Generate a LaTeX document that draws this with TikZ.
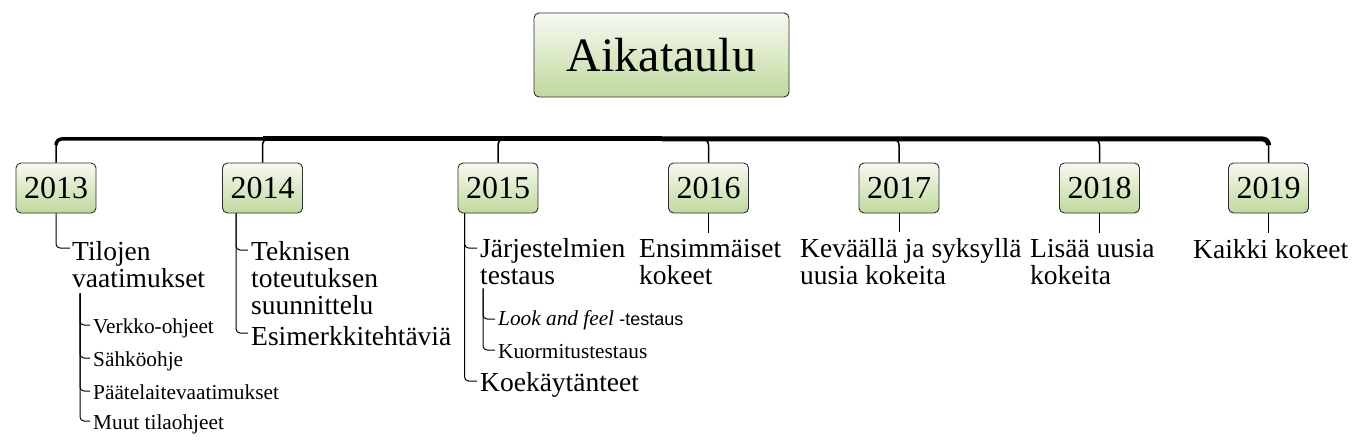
\documentclass[tikz,border=0pt]{standalone}
\usepackage{fontspec}
\setmainfont{Liberation Serif}
\newfontfamily\arialfont{Liberation Sans}
\usepackage{tikz}
\usetikzlibrary{calc}
\definecolor{boxtop}{HTML}{F7FAF2}
\definecolor{boxbottom}{HTML}{C0D89C}
\definecolor{boxline}{HTML}{2E2E2E}
\tikzset{
    topic/.style={
        draw=boxline,
        line width=0.9pt,
        rounded corners=5pt,
        top color=boxtop,
        bottom color=boxbottom,
        inner sep=0pt
    },
    maintopic/.style={
        topic,
        minimum width=255pt,
        minimum height=84pt,
        font=\fontsize{48}{52}\selectfont
    },
    yeartopic/.style={
        topic,
        minimum width=80pt,
        minimum height=50pt,
        font=\fontsize{32}{36}\selectfont
    },
    % base west of a wrapped item is its last line
    item/.style={
        anchor=base west,
        inner sep=0pt,
        align=left,
        font=\fontsize{27.5}{27}\selectfont
    },
    subitem/.style={
        anchor=base west,
        inner sep=0pt,
        font=\fontsize{21.3}{22}\selectfont
    },
    bus/.style={line width=5pt, rounded corners=6pt},
    drop/.style={line width=1.5pt, rounded corners=6pt},
    branch/.style={line width=1pt, rounded corners=4pt}
}
\begin{document}
\begin{tikzpicture}[x=1pt,y=-1pt]
    \useasboundingbox (0,0) rectangle (1361,440);

    %% Title and years
    \node (aikataulu) [maintopic] at (661.5,55) {Aikataulu};
    \coordinate (hub) at ($(aikataulu.south)+(0,41.5)$);

    \node (y2013) [yeartopic] at (56,188) {2013};
    \node (y2014) [yeartopic] at (262.5,188) {2014};
    \node (y2015) [yeartopic] at (498,188) {2015};
    \node (y2016) [yeartopic] at (708.5,188) {2016};
    \node (y2017) [yeartopic] at (899,188) {2017};
    \node (y2018) [yeartopic] at (1099.5,188) {2018};
    \node (y2019) [yeartopic] at (1268.5,188) {2019};

    %% Bus
    \draw[bus,line width=3.5pt] (hub) -| ($(hub -| y2013.north)+(0,5)$);
    \draw[bus] (hub) -- (hub -| y2014.north);
    \draw[bus] (hub) -| ($(hub -| y2019.north)+(0,5)$);
    \draw[drop] (hub) -| (y2013.north);
    \draw[drop] (hub) -| (y2014.north);
    \draw[drop] (hub) -| (y2015.north);
    \draw[drop] (hub) -| (y2016.north);
    \draw[drop] (hub) -| (y2017.north);
    \draw[drop] (hub) -| (y2018.north);
    \draw[drop] (hub) -| (y2019.north);

    %% 2013
    \node (tilojen) [item] at (72,287) {Tilojen\\vaatimukset};
    \draw[branch] (y2013.south) |- ($(tilojen.base west)+(-2,-39)$);
    \node (verkko) [subitem] at (93,333) {Verkko-ohjeet};
    \node (sahko) [subitem] at (93,366) {Sähköohje};
    \node (paate) [subitem] at (93,399) {Päätelaitevaatimukset};
    \node (muut) [subitem] at (93,429) {Muut tilaohjeet};
    \draw[branch] ($(tilojen.south west)+(8,6)$) |- ($(verkko.base west)+(-3,-8)$);
    \draw[branch] ($(tilojen.south west)+(8,6)$) |- ($(sahko.base west)+(-3,-8)$);
    \draw[branch] ($(tilojen.south west)+(8,6)$) |- ($(paate.base west)+(-3,-8)$);
    \draw[branch] ($(tilojen.south west)+(8,6)$) |- ($(muut.base west)+(-3,-8)$);

    %% 2014
    \node (teknisen) [item] at (251,314) {Teknisen\\toteutuksen\\suunnittelu};
    \node (esimerkki) [item] at (251,345) {Esimerkkitehtäviä};
    \draw[branch] ($(y2014.south west)+(14,0)$) |- ($(teknisen.base west)+(-3,-64)$);
    \draw[branch] ($(y2014.south west)+(14,0)$) |- ($(esimerkki.base west)+(-3,-12)$);

    %% 2015
    \node (jarjestelmat) [item] at (480,284) {Järjestelmien\\testaus};
    \node (koekaytanteet) [item] at (480,391) {Koekäytänteet};
    \draw[branch] ($(y2015.south west)+(7,0)$) |- ($(jarjestelmat.base west)+(-3,-36)$);
    \draw[branch] ($(y2015.south west)+(7,0)$) |- ($(koekaytanteet.base west)+(-3,-10)$);
    \node (lookfeel) [subitem] at (498,325) {\textit{Look and feel} {\arialfont\fontsize{18}{20}\selectfont -testaus}};
    \node (kuormitus) [subitem] at (498,358) {Kuormitustestaus};
    \draw[branch] ($(jarjestelmat.south west)+(3,4)$) |- ($(lookfeel.base west)+(-3,-6)$);
    \draw[branch] ($(jarjestelmat.south west)+(3,4)$) |- ($(kuormitus.base west)+(-3,-8)$);

    %% 2016 - 2019
    \node (ensimmaiset) [item] at (639,284) {Ensimmäiset\\kokeet};
    \node (kevaalla) [item] at (800,284) {Keväällä ja syksyllä\\uusia kokeita};
    \node (lisaa) [item] at (1030,284) {Lisää uusia\\kokeita};
    \node (kaikki) [item] at (1193,258) {Kaikki kokeet};
    \draw[branch,shorten >=6pt] (y2016) -- (y2016 |- ensimmaiset.north);
    \draw[branch,shorten >=6pt] (y2017) -- (y2017 |- kevaalla.north);
    \draw[branch,shorten >=6pt] (y2018) -- (y2018 |- lisaa.north);
    \draw[branch,shorten >=6pt] (y2019) -- (y2019 |- kaikki.north);

\end{tikzpicture}
\end{document}
